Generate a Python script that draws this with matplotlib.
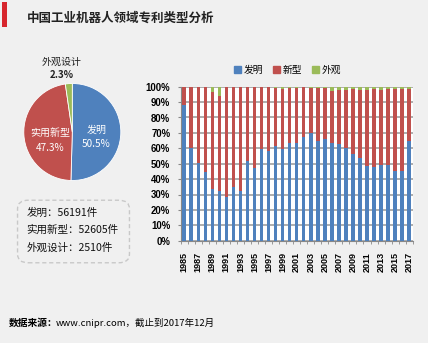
import matplotlib.pyplot as plt
import numpy as np
from matplotlib.patches import FancyBboxPatch, Rectangle, Patch

plt.rcParams['font.family'] = ['Noto Sans CJK SC', 'DejaVu Sans']

# pie data
pie_labels = ['发明', '实用新型', '外观设计']
pie_shares = [50.5, 47.3, 2.3]
pie_counts = [56191, 52605, 2510]

# stacked bar data (share in %)
years = list(range(1985, 2018))
invention = [88.0, 60.4, 50.3, 44.5, 33.5, 32.5, 28.2, 34.7, 32.5, 51.7, 47.5,
             59.5, 58.4, 61.7, 59.3, 63.2, 63.6, 67.5, 69.7, 64.7, 65.8, 63.6,
             62.6, 60.0, 56.6, 53.9, 48.7, 47.6, 49.3, 49.3, 45.4, 45.5, 64.7]
utility = [12.0, 39.6, 49.7, 55.5, 62.9, 61.5, 71.8, 65.3, 67.5, 48.3, 52.5,
           40.5, 41.6, 37.5, 39.1, 36.2, 35.4, 32.0, 29.7, 34.7, 33.4, 33.8,
           35.2, 37.9, 41.6, 44.0, 49.3, 50.7, 48.8, 48.9, 52.8, 52.8, 33.7]
design = [0, 0, 0, 0, 3.6, 6.0, 0, 0, 0, 0, 0,
          0, 0, 0.8, 1.6, 0.6, 1.0, 0.5, 0.6, 0.6, 0.8, 2.6,
          2.2, 2.1, 1.8, 2.1, 2.0, 1.7, 1.9, 1.8, 1.8, 1.7, 1.6]
bar_legend = ['发明', '新型', '外观']

colors = ['#4f81bd', '#c0504d', '#9bbb59']
W, H = 432, 347
bg = '#f0f0f0'

fig = plt.figure(figsize=(W / 100, H / 100), dpi=100)
fig.patch.set_facecolor('white')


def px(x, y):
    return x / W, 1 - y / H


# gray panels
fig.patches.append(Rectangle(px(0, 343), 428 / W, 343 / H, transform=fig.transFigure,
                             facecolor=bg, edgecolor='none', zorder=-10))
fig.patches.append(Rectangle(px(1.5, 27), 5 / W, 25 / H, transform=fig.transFigure,
                             facecolor='#d7262d', edgecolor='none', zorder=-5))

fig.text(*px(27, 18), '中国工业机器人领域专利类型分析', fontsize=9, fontweight='bold',
         va='center', ha='left', color='#222222')

# pie
cx, cy, r = 72.3, 132, 48.5
pax = fig.add_axes([(cx - r) / W, 1 - (cy + r) / H, 2 * r / W, 2 * r / H])
pax.pie([pie_shares[0], pie_shares[1], pie_shares[2]], colors=colors, startangle=90,
        counterclock=False, radius=1,
        wedgeprops=dict(edgecolor='white', linewidth=0.6))
pax.set_xlim(-1, 1)
pax.set_ylim(-1, 1)
pax.set_aspect('auto')
pax.axis('off')
pax.text(0.50, 0.05, pie_labels[0], color='white', fontsize=7.2, ha='center', va='center')
pax.text(0.50, -0.25, f'{pie_shares[0]}%', color='white', fontsize=7.2, ha='center', va='center')
pax.text(-0.46, -0.02, pie_labels[1], color='white', fontsize=7.2, ha='center', va='center')
pax.text(-0.46, -0.32, f'{pie_shares[1]}%', color='white', fontsize=7.2, ha='center', va='center')
pax.text(-0.21, 1.44, pie_labels[2], color='#222222', fontsize=7.2, ha='center', va='center',
         clip_on=False)
pax.text(-0.21, 1.18, f'{pie_shares[2]}%', color='#222222', fontsize=7, ha='center',
         va='center', fontweight='bold', clip_on=False)

# count box
fig.patches.append(FancyBboxPatch(px(21, 260), 105 / W, 57 / H, transform=fig.transFigure,
                                  boxstyle='round,pad=0.008,rounding_size=0.025',
                                  facecolor='none', edgecolor='#c8c8c8',
                                  linestyle=(0, (3, 2)), linewidth=1, zorder=2))
for i, (lab, n) in enumerate(zip(pie_labels, pie_counts)):
    fig.text(*px(26.5, 212.5 + 17.5 * i), f'{lab}：{n}件', fontsize=7.6,
             va='center', ha='left', color='#111111')

# stacked bars
ax = fig.add_axes([180.7 / W, 1 - 240.7 / H, 232 / W, 154 / H])
ax.set_facecolor('white')
x = np.arange(len(years))
ax.bar(x, invention, 0.5, color=colors[0], zorder=3)
ax.bar(x, utility, 0.5, bottom=invention, color=colors[1], zorder=3)
ax.bar(x, design, 0.5, bottom=np.array(invention) + np.array(utility),
       color=colors[2], zorder=3)
ax.set_xlim(-0.5, len(years) - 0.5)
ax.set_ylim(0, 100)
ax.set_yticks(np.arange(0, 101, 10))
ax.set_yticklabels([f'{v}%' for v in range(0, 101, 10)], fontsize=6.9,
                   fontweight='bold', family='Liberation Sans')
ax.set_xticks(x[::2])
ax.set_xticklabels([str(y) for y in years[::2]], rotation=90, fontsize=6.5,
                   fontweight='bold', family='Liberation Sans')
ax.set_xticks(np.arange(-0.5, len(years), 1), minor=True)
ax.tick_params(axis='x', which='major', length=0, pad=8)
ax.tick_params(axis='x', which='minor', length=2.5, color='#888888')
ax.tick_params(axis='y', length=2.5, color='#888888', pad=5)
ax.grid(axis='y', color='#a0a0a0', linewidth=1.2, zorder=0)
for s in ['top', 'right']:
    ax.spines[s].set_visible(False)
ax.spines['left'].set_color('#888888')
ax.spines['bottom'].set_color('#888888')

handles = [Patch(color=c) for c in colors]
fig.legend(handles, bar_legend, loc='center', bbox_to_anchor=px(288, 70), ncol=3,
           frameon=False, fontsize=7, handlelength=0.7, handleheight=0.7,
           handletextpad=0.3, columnspacing=1.0)

# source
fig.text(*px(9, 322.5), '数据来源：', fontsize=7, fontweight='bold', va='center', ha='left')
fig.text(*px(56, 322.5), 'www.cnipr.com，截止到2017年12月', fontsize=6.8, va='center', ha='left')

fig.savefig('out.png', dpi=100, facecolor=fig.get_facecolor())
